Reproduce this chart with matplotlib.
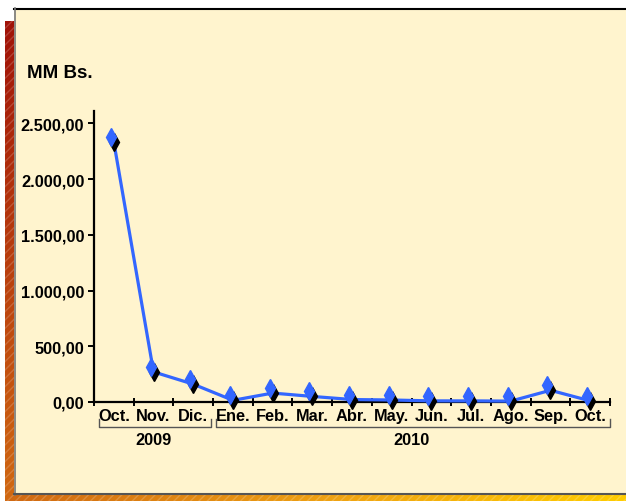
import matplotlib
matplotlib.use("Agg")
import matplotlib.pyplot as plt
import matplotlib.transforms as mtransforms
from matplotlib.colors import LinearSegmentedColormap
from matplotlib.patches import Rectangle
import numpy as np

plt.rcParams['font.family'] = ['Liberation Sans', 'DejaVu Sans']
plt.rcParams['font.weight'] = 'bold'

# data (MM Bs.)
months = ["Oct.", "Nov.", "Dic.", "Ene.", "Feb.", "Mar.", "Abr.",
          "May.", "Jun.", "Jul.", "Ago.", "Sep.", "Oct."]
values = [2330, 270, 160, 15, 80, 50, 22, 18, 10, 10, 8, 105, 10]
years = ["2009", "2010"]
year_spans = [(0, 2), (3, 12)]
y_ticks = [0, 500, 1000, 1500, 2000, 2500]
y_labels = ["0,00", "500,00", "1.000,00", "1.500,00", "2.000,00", "2.500,00"]

W, H = 626, 502
fig = plt.figure(figsize=(W / 100, H / 100), dpi=100)
fig.patch.set_facecolor("white")

# background frame drawn in pixel coordinates
bg = fig.add_axes([0, 0, 1, 1])
bg.set_xlim(0, W)
bg.set_ylim(H, 0)
bg.axis("off")

cmap = LinearSegmentedColormap.from_list(
    "frame", [(0, "#a01208"), (0.45, "#d06812"), (0.75, "#f0a412"), (1, "#ffcc00")])
gx, gy = np.meshgrid(np.linspace(5, W, 300), np.linspace(22, H, 200))
grad = 0.45 * (gy - 22) / 480 + 0.55 * (gx - 5) / (W - 5)
bg.imshow(grad, cmap=cmap, extent=(5, W, H, 22), aspect="auto", zorder=0)
bg.add_patch(Rectangle((5, 22), W - 5, H - 22, facecolor="none",
                       edgecolor=(1, 1, 1, 0.18), hatch="////", lw=0, zorder=1))
# panel
bg.add_patch(Rectangle((14, 9), W - 14, 487, facecolor="#fff4ce",
                       edgecolor="none", zorder=2))
bg.plot([14, W], [9.5, 9.5], color="black", lw=1.5, zorder=3)
bg.plot([14.5, 14.5], [9, 496], color="#777777", lw=1.2, zorder=3)
bg.plot([14, W], [495, 495], color="#555555", lw=1.5, zorder=3)

# main chart
ax = fig.add_axes([94 / W, 1 - 403 / H, (610 - 94) / W, (403 - 112) / H])
ax.set_facecolor("none")
x = np.arange(len(months))
ax.plot(x, values, color="#3366ff", lw=2.3, zorder=3, clip_on=False)
ax.plot(x, values, linestyle="none", marker="d", markersize=9,
        color="black", zorder=4, clip_on=False)
shift = mtransforms.offset_copy(ax.transData, fig=fig, x=-3, y=5, units="dots")
ax.plot(x, values, linestyle="none", marker="d", markersize=9,
        color="#3366ff", transform=shift, zorder=5, clip_on=False)

ax.set_xlim(-0.5, len(months) - 0.5)
ax.set_ylim(0, 2610)
for s in ["top", "right"]:
    ax.spines[s].set_visible(False)
for s in ["left", "bottom"]:
    ax.spines[s].set_linewidth(1.6)

ax.set_yticks(y_ticks)
ax.set_yticklabels(y_labels, fontsize=11.8, fontweight="bold")
ax.tick_params(axis="y", direction="out", length=4, width=1.4, pad=3)

ax.set_xticks(np.arange(-0.5, len(months), 1))
ax.set_xticklabels([])
ax.tick_params(axis="x", which="major", direction="inout", length=6, width=1.4)
ax.set_xticks(x, minor=True)
ax.set_xticklabels(months, minor=True, fontsize=11.8, fontweight="bold")
ax.tick_params(axis="x", which="minor", length=0, pad=4.5)

# year brackets
tr = ax.get_xaxis_transform()
for yr, (a, b) in zip(years, year_spans):
    x0, x1 = a - 0.38, b + 0.45
    if b == len(months) - 1:
        x1 = b + 0.5
    if a > 0:
        x0 = a - 0.43
    ax.plot([x0, x0, x1, x1], [-0.058, -0.085, -0.085, -0.058], color="#555555",
            lw=1.0, transform=tr, clip_on=False)
    ax.text((a + b) / 2, -0.128, yr, transform=tr, ha="center", va="center",
            fontsize=11.8, fontweight="bold")

fig.text(27 / W, 1 - 74 / H, "MM Bs.", ha="left", va="center",
         fontsize=13.5, fontweight="bold")

fig.savefig("out.png", dpi=100)
